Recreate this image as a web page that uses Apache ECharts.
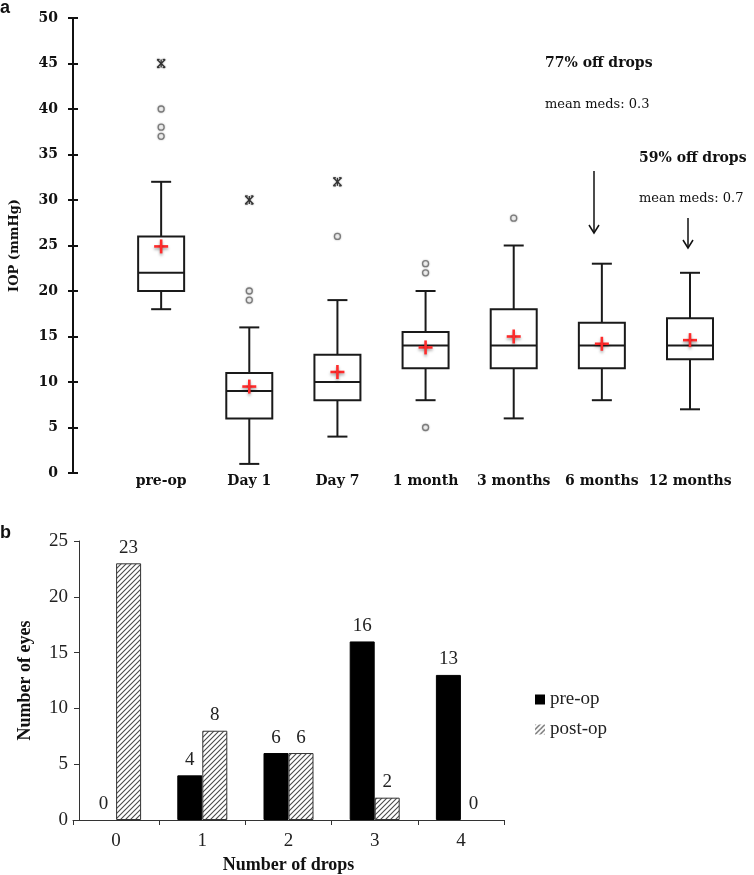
<!DOCTYPE html>
<html><head><meta charset="utf-8">
<script src="https://cdn.jsdelivr.net/npm/echarts@6/dist/echarts.min.js"></script>
<style>html,body{margin:0;padding:0;background:#fff}#c{width:754px;height:875px}</style>
</head><body><div id="c"></div>
<script>
// ---- Panel a: IOP box plots ----
const timepoints = ['pre-op', 'Day 1', 'Day 7', '1 month', '3 months', '6 months', '12 months'];
const whiskerLow  = [18, 1, 4, 8, 6, 8, 7];
const q1          = [20, 6, 8, 11.5, 11.5, 11.5, 12.5];
const median      = [22, 9, 10, 14, 14, 14, 14];
const q3          = [26, 11, 13, 15.5, 18, 16.5, 17];
const whiskerHigh = [32, 16, 19, 20, 25, 23, 22];
const meanIOP     = [24.9, 9.5, 11.1, 13.8, 15, 14.2, 14.6];
const outlierCat  = ['pre-op', 'pre-op', 'pre-op', 'Day 1', 'Day 1', 'Day 7', '1 month', '1 month', '1 month', '3 months'];
const outlierVal  = [37, 38, 40, 19, 20, 26, 22, 23, 5, 28];
const extremeCat  = ['pre-op', 'Day 1', 'Day 7'];
const extremeVal  = [45, 30, 32];
const iopMax = 50, iopStep = 5;

// ---- Panel b: number of drops ----
const dropCounts = ['0', '1', '2', '3', '4'];
const preOp  = [0, 4, 6, 16, 13];
const postOp = [23, 8, 6, 2, 0];
const eyesMax = 25, eyesStep = 5;

function hatch() {
  const s = 5;
  const cv = document.createElement('canvas'); cv.width = s; cv.height = s;
  const ctx = cv.getContext('2d');
  ctx.fillStyle = '#fff'; ctx.fillRect(0, 0, s, s);
  ctx.strokeStyle = '#4a4a4a'; ctx.lineWidth = 1.1;
  ctx.beginPath();
  ctx.moveTo(0, s); ctx.lineTo(s, 0);
  ctx.moveTo(-1, 1); ctx.lineTo(1, -1);
  ctx.moveTo(s - 1, s + 1); ctx.lineTo(s + 1, s - 1);
  ctx.stroke();
  return cv;
}
const hatchFill = { image: hatch(), repeat: 'repeat' };

const boxData = timepoints.map((t, i) => [t, whiskerLow[i], q1[i], median[i], q3[i], whiskerHigh[i], meanIOP[i]]);
const outlierData = outlierCat.map((c, i) => [c, outlierVal[i]]);
const extremeData = extremeCat.map((c, i) => [c, extremeVal[i]]);
// zero-height bars carry no outline, as in the original
const barItems = arr => arr.map(v => v === 0 ? { value: v, itemStyle: { borderWidth: 0 } } : v);

function renderBox(params, api) {
  const x = api.value(0);
  const py = v => api.coord([x, v])[1];
  const cx = api.coord([x, api.value(3)])[0];
  const yLo = py(api.value(1)), yQ1 = py(api.value(2)), yMed = py(api.value(3)),
        yQ3 = py(api.value(4)), yHi = py(api.value(5)), yMean = py(api.value(6));
  const hw = 23, cw = 10, mk = 7;
  const ls = { stroke: '#1a1a1a', lineWidth: 2 };
  const ms = { stroke: '#ff2b2b', lineWidth: 2.6, shadowBlur: 3, shadowColor: 'rgba(0,0,0,0.35)', shadowOffsetY: 2 };
  return { type: 'group', children: [
    { type: 'line', shape: { x1: cx, y1: yLo, x2: cx, y2: yQ1 }, style: ls },
    { type: 'line', shape: { x1: cx, y1: yQ3, x2: cx, y2: yHi }, style: ls },
    { type: 'line', shape: { x1: cx - cw, y1: yLo, x2: cx + cw, y2: yLo }, style: ls },
    { type: 'line', shape: { x1: cx - cw, y1: yHi, x2: cx + cw, y2: yHi }, style: ls },
    { type: 'rect', shape: { x: cx - hw, y: yQ3, width: 2 * hw, height: yQ1 - yQ3 }, style: { fill: '#fff', stroke: '#1a1a1a', lineWidth: 2 } },
    { type: 'line', shape: { x1: cx - hw, y1: yMed, x2: cx + hw, y2: yMed }, style: ls },
    { type: 'line', shape: { x1: cx - mk, y1: yMean, x2: cx + mk, y2: yMean }, style: ms },
    { type: 'line', shape: { x1: cx, y1: yMean - mk, x2: cx, y2: yMean + mk }, style: ms }
  ] };
}

function renderStar(params, api) {
  const c = api.coord([api.value(0), api.value(1)]);
  const r = 4, st = { stroke: '#333', lineWidth: 1.3, shadowBlur: 2, shadowColor: 'rgba(0,0,0,0.3)' };
  const L = (a, b, d, e) => ({ type: 'line', shape: { x1: c[0] + a, y1: c[1] + b, x2: c[0] + d, y2: c[1] + e }, style: st });
  return { type: 'group', children: [
    L(-r, -r, r, r), L(r, -r, -r, r), L(0, -r, 0, r), L(-r, -r, -r + 2.5, -r), L(r - 2.5, -r, r, -r),
    L(-r, r, -r + 2.5, r), L(r - 2.5, r, r, r)
  ] };
}

function arrow(x, y1, y2) {
  return { type: 'group', children: [
    { type: 'line', shape: { x1: x, y1: y1, x2: x, y2: y2 }, style: { stroke: '#111', lineWidth: 1.5 } },
    { type: 'polyline', shape: { points: [[x - 5, y2 - 8], [x, y2], [x + 5, y2 - 8]] }, style: { stroke: '#111', lineWidth: 1.5, fill: null } }
  ] };
}

const serifB = { fontFamily: 'DejaVu Serif', fontWeight: 'bold', fontSize: 14, color: '#111' };
const lib = { fontFamily: 'Liberation Serif', fontSize: 19, color: '#222' };

const chart = echarts.init(document.getElementById('c'), null, { renderer: 'canvas' });
chart.setOption({
  animation: false,
  backgroundColor: '#fff',
  grid: [
    { left: 67, top: 18, width: 623, height: 455 },
    { left: 73, top: 541, width: 431, height: 279 }
  ],
  xAxis: [
    { type: 'category', gridIndex: 0, data: [''].concat(timepoints), boundaryGap: false,
      axisLine: { show: false }, axisTick: { show: false }, splitLine: { show: false },
      axisLabel: Object.assign({ interval: 0, margin: 1 }, serifB) },
    { type: 'category', gridIndex: 1, data: dropCounts,
      axisLine: { lineStyle: { color: '#333', width: 1 } },
      axisTick: { show: true, length: 5, lineStyle: { color: '#333' } },
      axisLabel: Object.assign({ margin: 12 }, lib),
      name: 'Number of drops', nameLocation: 'middle', nameGap: 36,
      nameTextStyle: { fontFamily: 'Liberation Serif', fontWeight: 'bold', fontSize: 18, color: '#111' } }
  ],
  yAxis: [
    { type: 'value', gridIndex: 0, min: 0, max: iopMax, interval: iopStep,
      axisLine: { show: true, lineStyle: { color: '#111', width: 2 } },
      axisTick: { show: true, length: 5, lineStyle: { color: '#111', width: 2 } },
      splitLine: { show: false },
      axisLabel: Object.assign({ margin: 15 }, serifB),
      name: 'IOP (mmHg)', nameLocation: 'middle', nameGap: 52,
      nameTextStyle: { fontFamily: 'DejaVu Serif', fontWeight: 'bold', fontSize: 13, color: '#111' } },
    { type: 'value', gridIndex: 0, min: 0, max: iopMax, interval: iopStep, position: 'left',
      axisLine: { show: false }, axisTick: { show: true, inside: true, length: 5, lineStyle: { color: '#111', width: 2 } },
      axisLabel: { show: false }, splitLine: { show: false } },
    { type: 'value', gridIndex: 1, min: 0, max: eyesMax, interval: eyesStep, offset: -6,
      axisLine: { show: true, lineStyle: { color: '#333', width: 1 } },
      axisTick: { show: true, length: 5, lineStyle: { color: '#333' } },
      splitLine: { show: false },
      axisLabel: Object.assign({ margin: 11 }, lib),
      name: 'Number of eyes', nameLocation: 'middle', nameGap: 45,
      nameTextStyle: { fontFamily: 'Liberation Serif', fontWeight: 'bold', fontSize: 18, color: '#111' } }
  ],
  legend: {
    data: ['pre-op', 'post-op'], orient: 'vertical', left: 530, top: 685,
    itemWidth: 10, itemHeight: 10, itemGap: 11, icon: 'rect',
    itemStyle: { borderWidth: 0 },
    textStyle: { fontFamily: 'Liberation Serif', fontSize: 19, color: '#222' }
  },
  series: [
    { type: 'custom', name: 'IOP', xAxisIndex: 0, yAxisIndex: 0, renderItem: renderBox,
      encode: { x: 0, y: [1, 2, 3, 4, 5, 6] }, data: boxData, z: 2 },
    { type: 'scatter', name: 'outliers', xAxisIndex: 0, yAxisIndex: 0, symbol: 'circle', symbolSize: 6,
      itemStyle: { color: '#fff', borderColor: '#666', borderWidth: 1.3, shadowBlur: 2, shadowColor: 'rgba(0,0,0,0.3)' },
      data: outlierData, z: 3 },
    { type: 'custom', name: 'extremes', xAxisIndex: 0, yAxisIndex: 0, renderItem: renderStar,
      encode: { x: 0, y: 1 }, data: extremeData, z: 3 },
    { type: 'bar', name: 'pre-op', xAxisIndex: 1, yAxisIndex: 2, data: barItems(preOp), barWidth: 25, barGap: '0%',
      itemStyle: { color: '#000', borderColor: '#000', borderWidth: 1 },
      label: Object.assign({ show: true, position: 'top', distance: 6 }, lib) },
    { type: 'bar', name: 'post-op', xAxisIndex: 1, yAxisIndex: 2, data: barItems(postOp), barWidth: 25, barGap: '0%',
      itemStyle: { color: hatchFill, borderColor: '#333', borderWidth: 1 },
      label: Object.assign({ show: true, position: 'top', distance: 6 }, lib) }
  ],
  graphic: [
    { type: 'text', left: 0, top: -1, style: { text: 'a', font: 'bold 18px "Liberation Sans"', fill: '#111' } },
    { type: 'text', left: 0, top: 524, style: { text: 'b', font: 'bold 18px "Liberation Sans"', fill: '#111' } },
    { type: 'text', x: 545, y: 63, style: { text: '77% off drops', font: 'bold 14px "DejaVu Serif"', fill: '#111', verticalAlign: 'middle' } },
    { type: 'text', x: 545, y: 105, style: { text: 'mean meds: 0.3', font: '13px "DejaVu Serif"', fill: '#111', verticalAlign: 'middle' } },
    { type: 'text', x: 639, y: 158, style: { text: '59% off drops', font: 'bold 14px "DejaVu Serif"', fill: '#111', verticalAlign: 'middle' } },
    { type: 'text', x: 639, y: 199, style: { text: 'mean meds: 0.7', font: '13px "DejaVu Serif"', fill: '#111', verticalAlign: 'middle' } },
    arrow(594, 171, 233),
    arrow(688, 218, 248)
  ]
});
</script>
</body></html>
